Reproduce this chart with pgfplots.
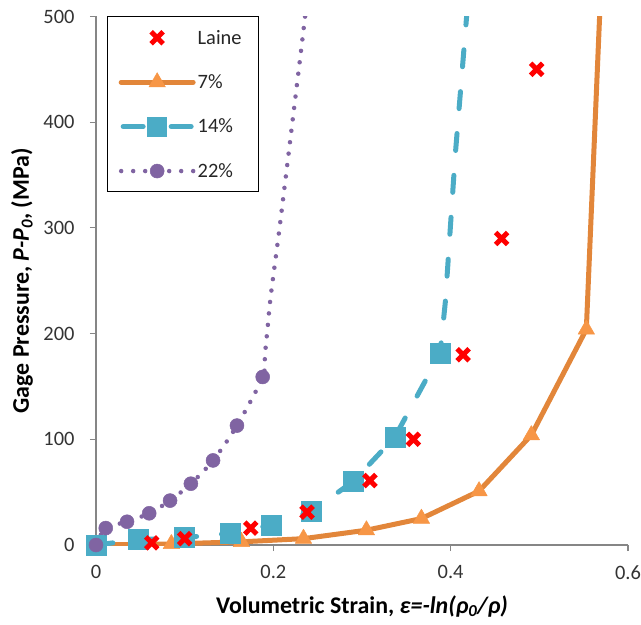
\documentclass[border=0pt]{standalone}
\usepackage{pgfplots}
\pgfplotsset{compat=1.18}
\usepackage{fontspec}
\setmainfont{Carlito}
\definecolor{laine}{RGB}{255,0,0}
\definecolor{orl}{RGB}{226,134,58}
\definecolor{orm}{RGB}{247,150,70}
\definecolor{bl}{RGB}{75,172,198}
\definecolor{pu}{RGB}{128,100,162}
\definecolor{axc}{RGB}{134,134,134}
\begin{document}
\begin{tikzpicture}
\useasboundingbox (-96bp,-80bp) rectangle (545bp,545bp);
\begin{axis}[
 scale only axis, width=532bp, height=528.5bp,
 xmin=0, xmax=0.6, ymin=0, ymax=500,
 axis x line*=bottom, axis y line*=left,
 axis line style={axc, line width=1.5bp, -},
 xtick={0,0.2,0.4,0.6}, xticklabels={0,0.2,0.4,0.6},
 ytick={0,100,200,300,400,500}, yticklabels={0,100,200,300,400,500},
 tick align=outside, major tick length=6bp,
 tick style={axc, line width=1.2bp},
 tick label style={font=\fontsize{20.5}{24}\selectfont, text=black!80},
 xticklabel style={yshift=-11bp},
 yticklabel style={xshift=-12bp},
 xlabel={\textbf{Volumetric Strain, \textit{ε=-ln(ρ\textsubscript{0}/ρ)}}},
 ylabel={\textbf{Gage Pressure, \textit{P-P\textsubscript{0}}, (MPa)}},
 label style={font=\fontsize{24}{28}\selectfont},
 xlabel style={at={(axis description cs:0.5,-0.1287)}, anchor=base},
 ylabel style={at={(axis description cs:-0.139,0.5)}, anchor=center},
 legend style={at={(axis description cs:0.021,1)}, anchor=north west,
   draw=black, line width=1bp, font=\fontsize{20.5}{24}\selectfont, text=black!85,
   inner xsep=11bp, inner ysep=11bp, row sep=25bp},
 legend cell align=left,
]
% legend images
\addlegendimage{legend image code/.code={
  \draw[laine, line width=5bp] plot[mark=x, mark size=8.5bp, only marks] coordinates {(36bp,0bp)};}}
\addlegendentry{Laine\hspace*{4bp}}
\addlegendimage{legend image code/.code={
  \draw[orl, line width=5bp, line cap=round] (0bp,0bp) -- (72bp,0bp);
  \draw[orm, fill=orm, line width=0.5bp] plot[mark=triangle*, mark size=9.5bp, only marks] coordinates {(36bp,0bp)};}}
\addlegendentry{7\%}
\addlegendimage{legend image code/.code={
  \draw[bl, line width=5bp, line cap=round] (2bp,0bp) -- (22bp,0bp) (50bp,0bp) -- (70bp,0bp);
  \draw[bl, fill=bl, line width=0.5bp] plot[mark=square*, mark size=9.5bp, only marks] coordinates {(36bp,0bp)};}}
\addlegendentry{14\%}
\addlegendimage{legend image code/.code={
  \draw[pu, line width=4.5bp, line cap=round, dash pattern=on 0bp off 12bp] (0bp,0bp) -- (72bp,0bp);
  \draw[pu, fill=pu, line width=0.5bp] plot[mark=*, mark size=7bp, only marks] coordinates {(36bp,0bp)};}}
\addlegendentry{22\%}

% 7%
\addplot[orl, line width=5bp, line join=round, mark=triangle*, mark size=9.5bp,
  mark options={orm, fill=orm, line width=0.5bp, solid},
  mark indices={1,2,3,4,5,6,7,8,9}, forget plot] coordinates {
(0,0) (0.085,1) (0.164,3) (0.234,6) (0.305,14) (0.367,25) (0.432,51) (0.491,104) (0.553,204) (0.5695,530)};
% 14%
\addplot[bl, line width=5bp, line cap=round, dash pattern=on 17bp off 25bp, mark=square*, mark size=10bp,
  mark options={bl, fill=bl, line width=0.5bp, solid},
  mark indices={1,2,3,4,5,6,7,8,9}, forget plot] coordinates {
(0,0) (0.0475,5) (0.100,7) (0.151,11) (0.198,19) (0.243,32) (0.290,60) (0.337,102) (0.388,181)
(0.394,230) (0.405,367) (0.418,500) (0.4195,520)};
% 22%
\addplot[pu, line width=4.5bp, line cap=round, dash pattern=on 0bp off 11.5bp, smooth, mark=*, mark size=7bp,
  mark options={pu, fill=pu, line width=0.5bp, solid},
  mark indices={1,2,3,4,5,6,7,8,9}, forget plot] coordinates {
(0,0) (0.011,16) (0.035,22) (0.060,30) (0.0835,42) (0.107,58) (0.132,80) (0.159,113) (0.188,159)
(0.1905,180) (0.1935,205) (0.197,235) (0.207,300) (0.2215,400) (0.2358,500) (0.237,515)};
% Laine
\addplot[laine, only marks, mark=x, mark size=8.5bp, mark options={line width=5bp}, forget plot] coordinates {
(0.0628,2) (0.100,6) (0.1745,16) (0.238,31) (0.309,61) (0.358,100) (0.414,180) (0.4575,290) (0.497,450)};
\end{axis}
\end{tikzpicture}
\end{document}
